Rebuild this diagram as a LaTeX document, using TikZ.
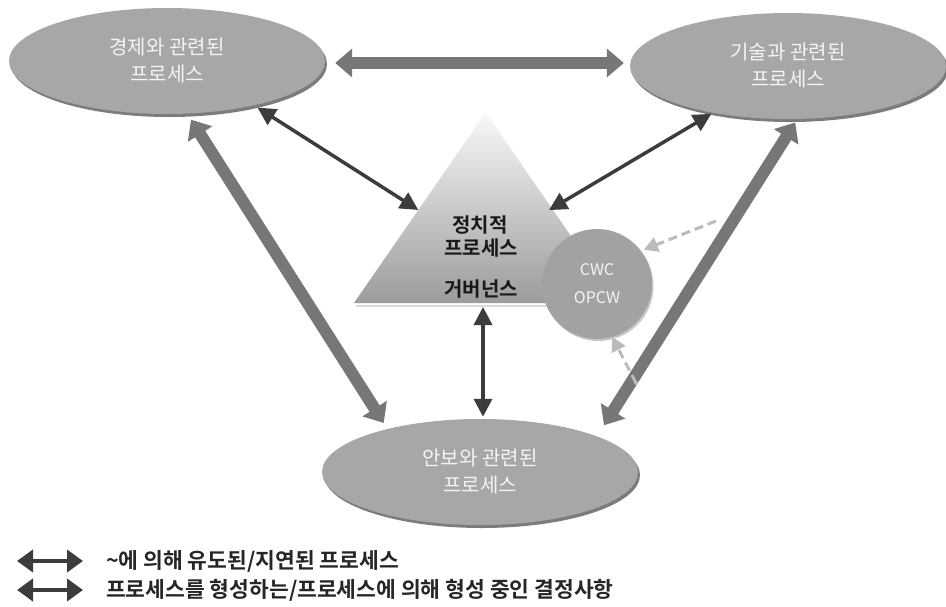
\documentclass[tikz,border=0pt]{standalone}
\usepackage{fontspec}
\setmainfont{Noto Sans CJK KR}[BoldFont={Noto Sans CJK KR Bold}]
\usetikzlibrary{arrows.meta,shapes.geometric,calc}
\definecolor{ellgray}{HTML}{A7A7A7}
\definecolor{rimgray}{HTML}{7C7C7C}
\definecolor{thickgray}{HTML}{777777}
\definecolor{darkarrow}{HTML}{3C3C3C}
\definecolor{dashgray}{HTML}{BBBBBB}
\definecolor{elltext}{HTML}{F4F4F4}
\definecolor{circgray}{HTML}{A2A2A2}
\definecolor{legtext}{HTML}{262626}
\begin{document}
\begin{tikzpicture}[x=1pt,y=-1pt,
  procell/.style={ellipse, minimum width=316pt, minimum height=106pt, inner sep=0pt,
    fill=ellgray, text=elltext, align=center,
    font=\fontsize{20}{27}\selectfont,
    preaction={fill=rimgray, transform canvas={shift={(2pt,-3pt)}}}},
  circnode/.style={circle, minimum size=110pt, inner sep=0pt, fill=circgray,
    text=elltext, align=center, font=\fontsize{16}{28}\selectfont,
    preaction={fill=gray!45, transform canvas={shift={(1.5pt,-2pt)}}}},
  tritext/.style={font=\bfseries\fontsize{20}{22}\selectfont, text=black!90, inner sep=0pt},
  legtxt/.style={font=\bfseries\fontsize{21.5}{24}\selectfont, text=legtext, anchor=west, inner sep=0pt},
  thickarr/.style={line width=12pt, draw=thickgray,
    {Triangle[length=17pt,width=28pt]}-{Triangle[length=17pt,width=28pt]}},
  thinarr/.style={line width=3.5pt, draw=darkarrow,
    {Triangle[length=18pt,width=18pt]}-{Triangle[length=18pt,width=18pt]}},
  legarr/.style={line width=4.5pt, draw=darkarrow,
    {Triangle[length=16pt,width=22pt]}-{Triangle[length=16pt,width=22pt]}},
  dasharr/.style={line width=3pt, draw=dashgray, dash pattern=on 9pt off 5pt,
    -{Triangle[length=14pt,width=15pt]}}
]
\useasboundingbox (0,0) rectangle (946,606);

% triangle (political process)
\coordinate (A) at (486,112);
\coordinate (BL) at (354,303);
\coordinate (BR) at (618,303);
\draw[line width=2pt, gray!30] ($(BL)+(2,3)$) -- ($(BR)+(2,3)$);
\shade[top color=gray!5, bottom color=gray!78] (A) -- (BL) -- (BR) -- cycle;
\draw[line width=1pt, white] (A) -- (BR);
\node[tritext] (t1) at (480,225) {정치적};
\node[tritext] (t2) at (481,248) {프로세스};
\node[tritext] (t3) at (481,289) {거버넌스};

% circle CWC / OPCW
\node[circnode] (opcw) at (597,284) {CWC\\OPCW};

% ellipses
\node[procell] (econ) at (167,61) {경제와 관련된\\프로세스};
\node[procell] (tech) at (788,66) {기술과 관련된\\프로세스};
\node[procell] (sec) at (480,472) {안보와 관련된\\프로세스};

% edge points on the triangle
\coordinate (tL) at ($(A)!0.513!(BL)$);
\coordinate (tR) at ($(A)!0.503!(BR)$);
\coordinate (tB) at (483,303);

% thick arrows
\draw[thickarr] ($(econ.east)+(10,2)$) -- ($(tech.west)+(-6,-3)$);
\draw[thickarr, shorten <=7pt, shorten >=7pt] (econ.-69) -- (sec.155.9);
\draw[thickarr, shorten <=13pt, shorten >=4pt] (sec.17.5) -- (tech.-80.2);

% thin arrows
\draw[thinarr, shorten <=4pt] (econ.-27) -- (tL);
\draw[thinarr, shorten <=2pt, shorten >=-4pt] (tech.-148.7) -- (tR);
\draw[thinarr, shorten <=4pt, shorten >=2pt] (tB) -- (tB |- sec.north);

% dashed arrows to the circle
\coordinate (d1) at (716,221);
\coordinate (d2) at (636,383);
\draw[dasharr, shorten >=3pt] (d1) -- (opcw.37);
\draw[dasharr] (d2) -- (opcw.-74.6);
\fill[dashgray] (d2) circle (2pt);

% legend
\coordinate (la) at (17,561);
\coordinate (lb) at (83,561);
\coordinate (lc) at (17,590);
\coordinate (ld) at (83,590);
\draw[legarr] (la) -- (lb);
\draw[legarr] (lc) -- (ld);
\node[legtxt] (l1) at (106,561) {\textasciitilde 에 의해 유도된/지연된 프로세스};
\node[legtxt] (l2) at (106,590) {프로세스를 형성하는/프로세스에 의해 형성 중인 결정사항};
\end{tikzpicture}
\end{document}
